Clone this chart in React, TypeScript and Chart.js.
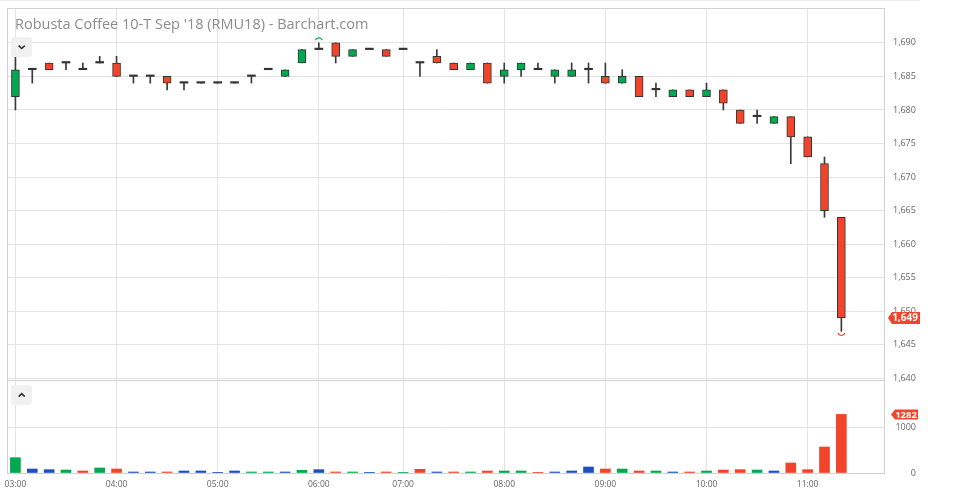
import React, { useEffect, useRef } from 'react';
import { Chart, registerables } from 'chart.js';

Chart.register(...registerables);

const title = "Robusta Coffee 10-T Sep '18 (RMU18) - Barchart.com";

const times = [
  '03:00', '03:10', '03:20', '03:30', '03:40', '03:50',
  '04:00', '04:10', '04:20', '04:30', '04:40', '04:50',
  '05:00', '05:10', '05:20', '05:30', '05:40', '05:50',
  '06:00', '06:10', '06:20', '06:30', '06:40',
  '07:00', '07:10', '07:20', '07:30', '07:40', '07:50',
  '08:00', '08:10', '08:20', '08:30', '08:40', '08:50',
  '09:00', '09:10', '09:20', '09:30', '09:40', '09:50',
  '10:00', '10:10', '10:20', '10:30', '10:40', '10:50',
  '11:00', '11:10', '11:20',
];

const opens = [
  1682, 1686, 1687, 1687, 1686, 1687, 1687, 1685, 1685, 1685,
  1684, 1684, 1684, 1684, 1685, 1686, 1685, 1687, 1689, 1690,
  1688, 1689, 1689, 1689, 1687, 1688, 1687, 1686, 1687, 1685,
  1686, 1686, 1685, 1685, 1686, 1685, 1684, 1685, 1683, 1682,
  1683, 1682, 1683, 1680, 1679, 1678, 1679, 1676, 1672, 1664,
];
const highs = [
  1688, 1686, 1687, 1687, 1687, 1688, 1688, 1685, 1685, 1685,
  1684, 1684, 1684, 1684, 1685, 1686, 1686, 1689, 1690, 1690,
  1689, 1689, 1689, 1689, 1687, 1689, 1687, 1687, 1687, 1687,
  1687, 1687, 1686, 1687, 1687, 1687, 1686, 1685, 1684, 1683,
  1683, 1684, 1683, 1680, 1680, 1679, 1679, 1676, 1673, 1664,
];
const lows = [
  1680, 1684, 1686, 1686, 1686, 1687, 1685, 1684, 1684, 1683,
  1683, 1684, 1684, 1684, 1684, 1686, 1685, 1687, 1689, 1687,
  1688, 1689, 1688, 1689, 1685, 1687, 1686, 1686, 1684, 1684,
  1685, 1686, 1684, 1685, 1684, 1684, 1684, 1682, 1682, 1682,
  1682, 1682, 1680, 1678, 1678, 1678, 1672, 1673, 1664, 1647,
];
const closes = [
  1686, 1686, 1686, 1687, 1686, 1687, 1685, 1685, 1685, 1684,
  1684, 1684, 1684, 1684, 1685, 1686, 1686, 1689, 1689, 1688,
  1689, 1689, 1688, 1689, 1687, 1687, 1686, 1687, 1684, 1686,
  1687, 1686, 1686, 1686, 1686, 1684, 1685, 1682, 1683, 1683,
  1682, 1683, 1681, 1678, 1679, 1679, 1676, 1673, 1665, 1649,
];
const volumes = [
  335, 87, 73, 65, 44, 109, 87, 22, 22, 22,
  44, 44, 4, 44, 22, 22, 22, 58, 73, 22,
  22, 4, 22, 4, 80, 22, 22, 22, 44, 44,
  44, 4, 22, 44, 131, 87, 87, 44, 44, 22,
  22, 44, 65, 73, 65, 44, 219, 73, 569, 1282,
];

const priceTicks = [1640, 1645, 1650, 1655, 1660, 1665, 1670, 1675, 1680, 1685, 1690];
const volumeTicks = [0, 1000];

const GREEN = '#00a84f';
const RED = '#f1442a';
const BLUE = '#1f4fbf';
const DARK = '#333333';
const GRID = '#e3e3e3';
const FRAME = '#d2d2d2';
const FONT = '"Open Sans", sans-serif';

const hourIdx = times.map((t, i) => (t.endsWith(':00') ? i : -1)).filter((i) => i >= 0);
const last = closes.length - 1;

const framePlugin = {
  id: 'frame',
  afterDraw(chart: any) {
    const { ctx, chartArea: a } = chart;
    const L = Math.round(a.left), T = Math.round(a.top), R = Math.round(a.right), B = Math.round(a.bottom);
    ctx.save();
    ctx.strokeStyle = FRAME;
    ctx.lineWidth = 1;
    ctx.strokeRect(L + 0.5, T + 0.5, R - L, B - T);
    ctx.restore();
  },
};

function drawTag(ctx: any, tip: number, right: number, y: number, h: number, text: string, tx: number, size: number) {
  ctx.save();
  ctx.fillStyle = RED;
  ctx.beginPath();
  ctx.moveTo(tip, y);
  ctx.lineTo(tip + 4, y - h / 2);
  ctx.lineTo(right, y - h / 2);
  ctx.lineTo(right, y + h / 2);
  ctx.lineTo(tip + 4, y + h / 2);
  ctx.closePath();
  ctx.fill();
  ctx.fillStyle = '#ffffff';
  ctx.font = 'bold ' + size + 'px ' + FONT;
  ctx.textAlign = 'center';
  ctx.textBaseline = 'middle';
  ctx.fillText(text, tx, y + 0.5);
  ctx.restore();
}

const priceMarks = {
  id: 'priceMarks',
  afterDraw(chart: any) {
    const { ctx } = chart;
    const xs = chart.scales.x, ys = chart.scales.y;
    const maxH = Math.max(...highs), minL = Math.min(...lows);
    const hi = highs.indexOf(maxH), lo = lows.indexOf(minL);
    ctx.save();
    ctx.lineWidth = 1.2;
    ctx.strokeStyle = GREEN;
    ctx.beginPath();
    ctx.arc(xs.getPixelForValue(hi), ys.getPixelForValue(maxH) - 1.5, 3.6, Math.PI * 1.1, Math.PI * 1.9);
    ctx.stroke();
    ctx.strokeStyle = RED;
    ctx.beginPath();
    ctx.arc(xs.getPixelForValue(lo), ys.getPixelForValue(minL) + 0.5, 3.6, Math.PI * 0.1, Math.PI * 0.9);
    ctx.stroke();
    ctx.restore();
    drawTag(ctx, 888, 920, ys.getPixelForValue(closes[last]), 12, closes[last].toLocaleString('en-US'), 905, 10);
  },
};

const volMarks = {
  id: 'volMarks',
  afterDraw(chart: any) {
    const ys = chart.scales.y;
    drawTag(chart.ctx, 891, 918, ys.getPixelForValue(volumes[last]), 10, String(volumes[last]), 906, 9.5);
  },
};

function zeroPad(s: any) {
  s.paddingTop = 0;
  s.paddingBottom = 0;
  s.paddingLeft = 0;
  s.paddingRight = 0;
}

function xScale(showLabels: boolean) {
  return {
    type: 'linear',
    min: -0.5,
    max: 51.53,
    bounds: 'data',
    offset: false,
    afterBuildTicks: (s: any) => {
      s.ticks = hourIdx.map((v) => ({ value: v }));
    },
    grid: { color: GRID, drawTicks: false, offset: false },
    border: { display: false },
    ticks: {
      display: showLabels,
      autoSkip: false,
      maxRotation: 0,
      padding: 6,
      color: '#666',
      font: { family: FONT, size: 8.5 },
      callback: (v: number) => times[v],
    },
    afterFit: (s: any) => {
      s.height = showLabels ? 18 : 0;
      zeroPad(s);
    },
  };
}

export default function App() {
  const priceRef = useRef<HTMLCanvasElement>(null);
  const volRef = useRef<HTMLCanvasElement>(null);

  useEffect(() => {
    const idx = times.map((_, i) => i);
    const bodyColors = idx.map((i) => (closes[i] > opens[i] ? GREEN : closes[i] < opens[i] ? RED : DARK));
    const bodyBorder = idx.map((i) => (closes[i] === opens[i] ? 0 : 1));
    const volColors = idx.map((i) => {
      const prev = i === 0 ? opens[0] : closes[i - 1];
      return closes[i] > prev ? GREEN : closes[i] < prev ? RED : BLUE;
    });

    const price = new Chart(priceRef.current as HTMLCanvasElement, {
      type: 'bar',
      data: {
        datasets: [
          {
            label: 'body',
            data: idx.map((i) => ({ x: i, y: [opens[i], closes[i]] })) as any,
            backgroundColor: bodyColors,
            borderColor: DARK,
            borderWidth: bodyBorder,
            borderSkipped: false,
            barThickness: 8,
            minBarLength: 1.5,
            grouped: false,
            order: 0,
          } as any,
          {
            label: 'wick',
            data: idx.map((i) => ({ x: i, y: [lows[i], highs[i]] })) as any,
            backgroundColor: '#3a3a3a',
            borderWidth: 0,
            barThickness: 1,
            grouped: false,
            order: 1,
          } as any,
        ],
      },
      options: {
        responsive: false,
        animation: false,
        devicePixelRatio: 1,
        layout: { padding: { left: 7, top: 8, right: 0, bottom: 6 } },
        plugins: { legend: { display: false }, tooltip: { enabled: false } },
        scales: {
          x: xScale(false) as any,
          y: {
            type: 'linear',
            position: 'right',
            min: 1639.75,
            max: 1695.2,
            bounds: 'data',
            afterBuildTicks: (s: any) => {
              s.ticks = priceTicks.map((v) => ({ value: v }));
            },
            grid: { color: GRID, drawTicks: false },
            border: { display: false },
            ticks: {
              padding: 9,
              color: '#666',
              font: { family: FONT, size: 9 },
              callback: (v: number) => v.toLocaleString('en-US'),
            },
            afterFit: (s: any) => {
              s.width = 75;
              zeroPad(s);
            },
          } as any,
        },
      },
      plugins: [framePlugin, priceMarks],
    });

    const vol = new Chart(volRef.current as HTMLCanvasElement, {
      type: 'bar',
      data: {
        datasets: [
          {
            label: 'volume',
            data: idx.map((i) => ({ x: i, y: volumes[i] })) as any,
            backgroundColor: volColors,
            borderWidth: 0,
            barThickness: 10,
          } as any,
        ],
      },
      options: {
        responsive: false,
        animation: false,
        devicePixelRatio: 1,
        layout: { padding: { left: 7, top: 0, right: 43, bottom: 0 } },
        plugins: { legend: { display: false }, tooltip: { enabled: false } },
        scales: {
          x: xScale(true) as any,
          y: {
            type: 'linear',
            position: 'right',
            min: 0,
            max: 2035,
            bounds: 'data',
            afterBuildTicks: (s: any) => {
              s.ticks = volumeTicks.map((v) => ({ value: v }));
            },
            grid: { color: GRID, drawTicks: false },
            border: { display: false },
            ticks: {
              padding: 0,
              crossAlign: 'far',
              color: '#666',
              font: { family: FONT, size: 9 },
              callback: (v: number) => String(v),
            },
            afterFit: (s: any) => {
              s.width = 32;
              zeroPad(s);
            },
          } as any,
        },
      },
      plugins: [framePlugin, volMarks],
    });

    return () => {
      price.destroy();
      vol.destroy();
    };
  }, []);

  const btn = (top: number, up: boolean) => (
    <div
      style={{
        position: 'absolute',
        left: 11,
        top,
        width: 21,
        height: 20,
        background: '#f1f1f1',
        borderRadius: 3,
      }}
    >
      <svg width={21} height={20} style={{ display: 'block' }}>
        <polyline
          points={up ? '7.6,11.6 10.7,8.6 13.8,11.6' : '7.6,8.7 10.7,11.5 13.8,8.7'}
          fill="none"
          stroke="#333"
          strokeWidth={1.6}
        />
      </svg>
    </div>
  );

  return (
    <div
      style={{
        position: 'absolute',
        left: 0,
        top: 0,
        width: 959,
        height: 491,
        background: '#fff',
        overflow: 'hidden',
        fontFamily: FONT,
      }}
    >
      <div style={{ position: 'absolute', left: 0, top: 0, width: 920, height: 1, background: '#ececec' }} />
      <canvas
        ref={priceRef}
        width={959}
        height={386}
        style={{ position: 'absolute', left: 0, top: 0, width: 959, height: 386 }}
      />
      <canvas
        ref={volRef}
        width={959}
        height={111}
        style={{ position: 'absolute', left: 0, top: 380, width: 959, height: 111 }}
      />
      <div
        style={{
          position: 'absolute',
          left: 15,
          top: 14,
          fontSize: 14.5,
          lineHeight: '20px',
          color: '#8c8c8c',
          whiteSpace: 'nowrap',
        }}
      >
        {title}
      </div>
      {btn(37, false)}
      {btn(385, true)}
    </div>
  );
}
